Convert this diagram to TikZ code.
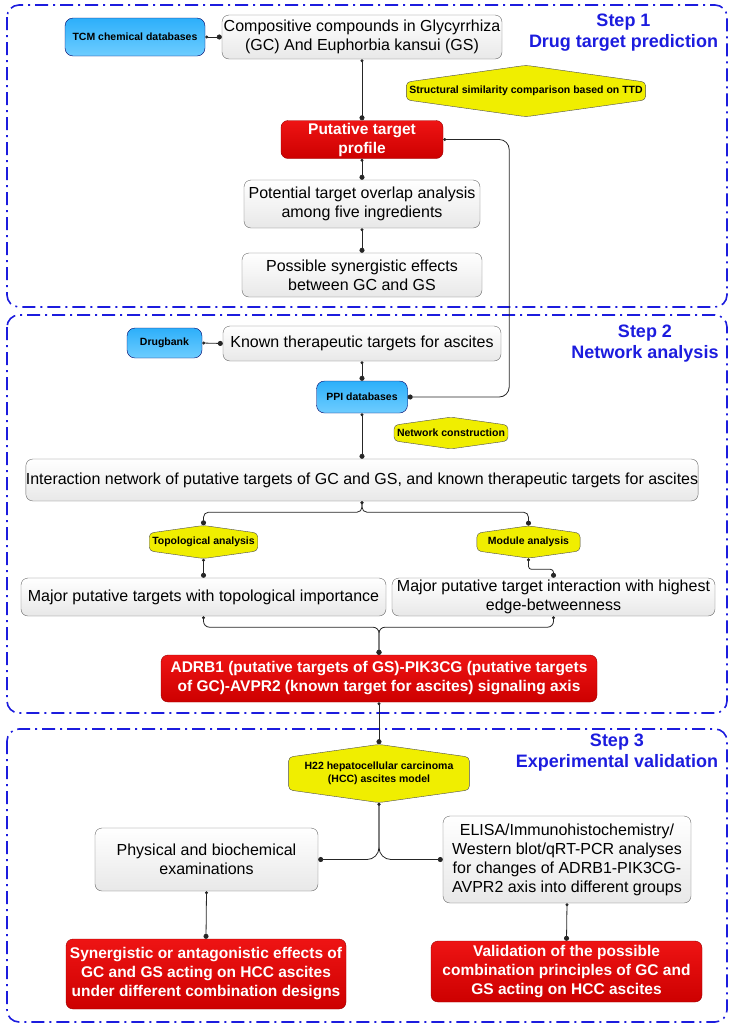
\documentclass[tikz,border=0pt]{standalone}
\usepackage{fontspec}
\setmainfont{Liberation Sans}
\usetikzlibrary{shapes.symbols,arrows.meta}
\definecolor{stepblue}{RGB}{28,28,222}
\definecolor{dbtop}{RGB}{45,175,250}
\definecolor{dbbot}{RGB}{110,205,255}
\definecolor{redtop}{RGB}{238,20,20}
\definecolor{redbot}{RGB}{205,0,0}
\definecolor{hexfill}{RGB}{240,238,0}

\begin{document}
\begin{tikzpicture}[x=1pt,y=-1pt,
  box/.style={draw=gray!80!black,rounded corners=7pt,top color=white,bottom color=gray!18,align=center,font=\fontsize{16}{19}\selectfont,inner sep=0pt},
  result/.style={draw=red!60!black,rounded corners=7pt,top color=redtop,bottom color=redbot,text=white,align=center,font=\fontsize{15.5}{19}\selectfont\bfseries,inner sep=0pt},
  db/.style={draw=blue!40!black,rounded corners=8pt,top color=dbtop,bottom color=dbbot,align=center,font=\fontsize{10.5}{13}\selectfont\bfseries,inner sep=0pt},
  hexa/.style={draw=black!70,fill=hexfill,shape=signal,signal to=north and south,signal pointer angle=164,rounded corners=4pt,align=center,font=\fontsize{10.5}{13}\selectfont\bfseries,inner xsep=3pt,inner ysep=4pt},
  steplabel/.style={text=stepblue,align=center,font=\fontsize{18}{21}\selectfont\bfseries},
  stepframe/.style={draw=stepblue,line width=1.6pt,rounded corners=12pt,dash pattern=on 13pt off 5pt on 2pt off 5pt},
  link/.style={draw=black!85,line width=0.8pt,arrows={Circle[length=3pt]-Circle[length=5pt]}}]
\useasboundingbox (0,0) rectangle (733,1029);
\draw[stepframe] (7,5) rectangle (727,307);
\draw[stepframe] (7,315) rectangle (727,713);
\draw[stepframe] (7,729) rectangle (727,1022);
% Step 1
\node[steplabel] (step1) at (623.5,32.5) {Step 1\\Drug target prediction};
\node[db,minimum width=140,minimum height=38] (tcm) at (135,37) {TCM chemical databases};
\node[box,minimum width=280,minimum height=44] (comp) at (362,37) {Compositive compounds in Glycyrrhiza\\(GC) And Euphorbia kansui (GS)};
\node[hexa] (ttd) at (526,91) {Structural similarity comparison based on TTD};
\node[result,minimum width=162,minimum height=38] (put) at (362,139.5) {Putative target\\profile};
\node[box,minimum width=236,minimum height=48] (overlap) at (362,204) {Potential target overlap analysis\\among five ingredients};
\node[box,minimum width=240,minimum height=44] (possible) at (362,275) {Possible synergistic effects\\between GC and GS};
% Step 2
\node[steplabel] (step2) at (645,344) {Step 2\\Network analysis};
\node[db,minimum width=75,minimum height=30] (drugbank) at (164.5,343) {Drugbank};
\node[box,minimum width=278,minimum height=35] (known) at (362,343.5) {Known therapeutic targets for ascites};
\node[db,minimum width=91,minimum height=32] (ppi) at (362,397) {PPI databases};
\node[hexa] (netc) at (451,433) {Network construction};
\node[box,minimum width=671,minimum height=42] (inter) at (362,480) {Interaction network of putative targets of GC and GS, and known therapeutic targets for ascites};
\node[hexa] (topo) at (203.5,542) {Topological analysis};
\node[hexa,inner xsep=11pt] (modu) at (528.5,542) {Module analysis};
\node[box,minimum width=365,minimum height=38] (majt) at (203.5,597) {Major putative targets with topological importance};
\node[box,minimum width=323,minimum height=38] (maji) at (553.5,597) {Major putative target interaction with highest\\edge-betweenness};
\node[result,minimum width=436,minimum height=47] (adrb) at (379,678.5) {ADRB1 (putative targets of GS)-PIK3CG (putative targets\\of GC)-AVPR2 (known target for ascites) signaling axis};
% Step 3
\node[steplabel] (step3) at (617,752.5) {Step 3\\Experimental validation};
\node[hexa,inner xsep=16pt,inner ysep=5pt] (h22) at (379,773.5) {H22 hepatocellular carcinoma\\(HCC) ascites model};
\node[box,minimum width=223,minimum height=63] (phys) at (206.5,859.5) {Physical and biochemical\\examinations};
\node[box,minimum width=248,minimum height=87] (elisa) at (567,859.5) {ELISA/Immunohistochemistry/\\Western blot/qRT-PCR analyses\\for changes of ADRB1-PIK3CG-\\AVPR2 axis into different groups};
\node[result,minimum width=280,minimum height=70] (synant) at (206,974) {Synergistic or antagonistic effects of\\GC and GS acting on HCC ascites\\under different combination designs};
\node[result,minimum width=271,minimum height=61] (valid) at (566.5,971.5) {Validation of the possible\\combination principles of GC and\\GS acting on HCC ascites};
% connectors
\draw[link] (tcm.east) -- (comp.west);
\draw[link] (comp.south) -- (put.north);
\draw[link,rounded corners=10pt] (put.east) -- ++(66,0) |- (ppi.east);
\draw[link] (put.south) -- (overlap.north);
\draw[link] (overlap.south) -- (possible.north);
\draw[link] (drugbank.east) -- (known.west);
\draw[link] (known.south) -- (ppi.north);
\draw[link] (ppi.south) -- (inter.north);
\draw[link,rounded corners=5pt] (inter.south) -- ++(0,11) -| (topo.north);
\draw[link,rounded corners=5pt] (inter.south) -- ++(0,11) -| (modu.north);
\draw[link] (topo.south) -- (majt.north);
\draw[link,rounded corners=3pt] (modu.south) -- ++(0,11) -| (maji.north);
\draw[link,rounded corners=6pt] (majt.south) -- ++(0,11) -| (adrb.north);
\draw[link,rounded corners=6pt] (maji.south) -- ++(0,11) -| (adrb.north);
\draw[link] (adrb.south) -- (h22.north);
\draw[link,rounded corners=12pt] (h22.south) |- (phys.east);
\draw[link,rounded corners=12pt] (h22.south) |- (elisa.west);
\draw[link] (phys.south) -- (synant.north);
\draw[link] (elisa.south) -- (valid.north);
\end{tikzpicture}
\end{document}
